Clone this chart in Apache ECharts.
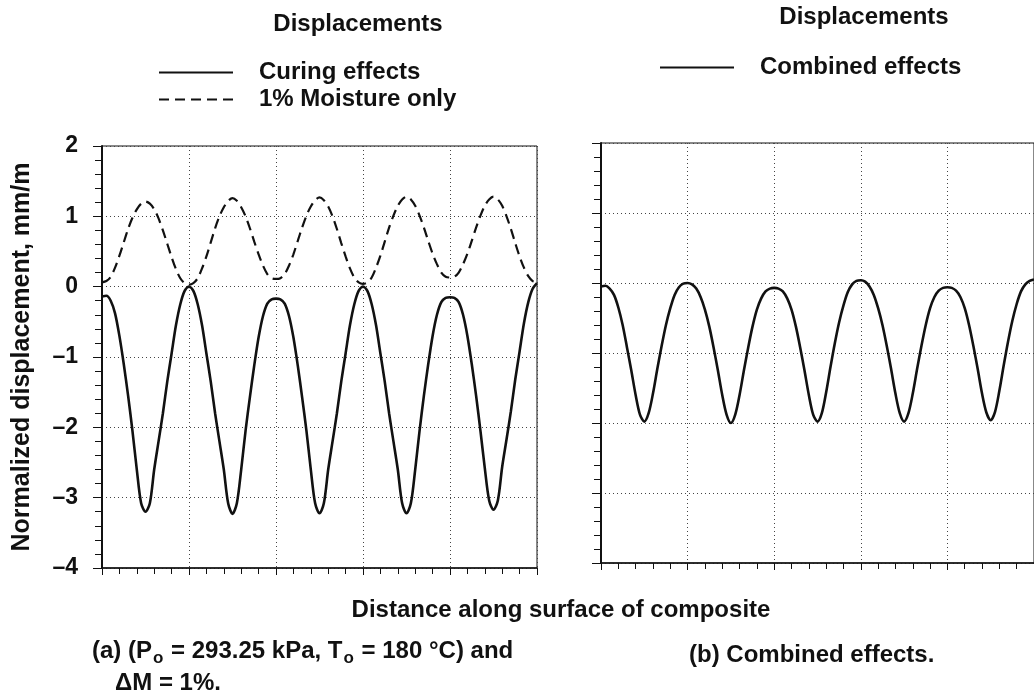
<!DOCTYPE html>
<html>
<head>
<meta charset="utf-8">
<title>Displacements</title>
<script src="https://cdn.jsdelivr.net/npm/echarts@6/dist/echarts.min.js"></script>
<style>
  html, body { margin: 0; padding: 0; background: #fff; }
  #chart { width: 1034px; height: 698px; }
</style>
</head>
<body>
<div id="chart"></div>
<script>
// distance along the surface (one unit = one grid cell)
const distance = [
  0, 0.05, 0.1, 0.15, 0.2, 0.25, 0.3, 0.35, 0.4, 0.45,
  0.5, 0.55, 0.6, 0.65, 0.7, 0.75, 0.8, 0.85, 0.9, 0.95,
  1, 1.05, 1.1, 1.15, 1.2, 1.25, 1.3, 1.35, 1.4, 1.45,
  1.5, 1.55, 1.6, 1.65, 1.7, 1.75, 1.8, 1.85, 1.9, 1.95,
  2, 2.05, 2.1, 2.15, 2.2, 2.25, 2.3, 2.35, 2.4, 2.45,
  2.5, 2.55, 2.6, 2.65, 2.7, 2.75, 2.8, 2.85, 2.9, 2.95,
  3, 3.05, 3.1, 3.15, 3.2, 3.25, 3.3, 3.35, 3.4, 3.45,
  3.5, 3.55, 3.6, 3.65, 3.7, 3.75, 3.8, 3.85, 3.9, 3.95,
  4, 4.05, 4.1, 4.15, 4.2, 4.25, 4.3, 4.35, 4.4, 4.45,
  4.5, 4.55, 4.6, 4.65, 4.7, 4.75, 4.8, 4.85, 4.9, 4.95,
  5
];

// (a) curing effects, mm/m
const curingEffects = [
  -0.14, -0.13, -0.2, -0.38, -0.7, -1.1, -1.55, -2.05, -2.6, -3.08,
  -3.2, -3.08, -2.6, -2.2, -1.8, -1.35, -0.95, -0.55, -0.25, -0.06,
  0, -0.06, -0.25, -0.55, -0.95, -1.35, -1.8, -2.2, -2.6, -3.08,
  -3.23, -3.08, -2.6, -2.05, -1.57, -1.12, -0.72, -0.42, -0.24, -0.18,
  -0.17, -0.18, -0.24, -0.42, -0.72, -1.12, -1.57, -2.05, -2.6, -3.08,
  -3.22, -3.08, -2.6, -2.2, -1.8, -1.35, -0.95, -0.55, -0.25, -0.06,
  0, -0.06, -0.25, -0.55, -0.95, -1.35, -1.8, -2.2, -2.6, -3.08,
  -3.22, -3.08, -2.6, -2.05, -1.55, -1.1, -0.7, -0.4, -0.22, -0.16,
  -0.15, -0.16, -0.22, -0.4, -0.7, -1.1, -1.55, -2.05, -2.58, -3.04,
  -3.17, -3.04, -2.56, -2.17, -1.77, -1.32, -0.92, -0.52, -0.22, -0.03,
  0.05
];

// (a) 1% moisture only, mm/m
const moistureOnly = [
  0.06, 0.08, 0.14, 0.27, 0.44, 0.63, 0.82, 0.98, 1.1, 1.18,
  1.21, 1.18, 1.1, 0.97, 0.8, 0.61, 0.42, 0.25, 0.12, 0.05,
  0.03, 0.05, 0.12, 0.26, 0.43, 0.63, 0.83, 1.0, 1.13, 1.22,
  1.26, 1.22, 1.13, 1.0, 0.83, 0.64, 0.46, 0.3, 0.18, 0.12,
  0.11, 0.12, 0.18, 0.3, 0.46, 0.65, 0.84, 1.01, 1.14, 1.23,
  1.27, 1.23, 1.14, 1.0, 0.82, 0.62, 0.43, 0.26, 0.13, 0.06,
  0.04, 0.06, 0.13, 0.27, 0.44, 0.64, 0.84, 1.01, 1.15, 1.24,
  1.28, 1.24, 1.15, 1.01, 0.84, 0.65, 0.47, 0.32, 0.2, 0.14,
  0.13, 0.14, 0.2, 0.32, 0.47, 0.65, 0.84, 1.01, 1.15, 1.24,
  1.28, 1.24, 1.15, 1.0, 0.82, 0.62, 0.43, 0.27, 0.15, 0.08,
  0.06
];

// (b) combined effects, mm/m
const combinedEffects = [
  -0.05, -0.04, -0.08, -0.17, -0.35, -0.6, -0.92, -1.25, -1.6, -1.88,
  -1.98, -1.86, -1.58, -1.23, -0.9, -0.6, -0.36, -0.17, -0.06, -0.01,
  0, -0.02, -0.08, -0.2, -0.38, -0.62, -0.92, -1.25, -1.6, -1.88,
  -2.0, -1.88, -1.6, -1.25, -0.92, -0.62, -0.38, -0.22, -0.12, -0.08,
  -0.07, -0.08, -0.12, -0.22, -0.38, -0.62, -0.92, -1.25, -1.6, -1.88,
  -1.98, -1.86, -1.56, -1.2, -0.86, -0.56, -0.32, -0.13, -0.02, 0.03,
  0.04, 0.02, -0.05, -0.17, -0.36, -0.6, -0.9, -1.23, -1.58, -1.86,
  -1.98, -1.86, -1.58, -1.23, -0.9, -0.6, -0.36, -0.2, -0.11, -0.07,
  -0.06, -0.07, -0.11, -0.2, -0.36, -0.6, -0.9, -1.23, -1.58, -1.85,
  -1.96, -1.84, -1.54, -1.18, -0.84, -0.54, -0.3, -0.12, -0.02, 0.03,
  0.05
];

const FONT = '"Liberation Sans", Arial, Helvetica, sans-serif';
const INK = '#111';

function pairs(values) {
  return distance.map((x, i) => [x, values[i]]);
}

function xAxisFor(gridIndex) {
  return {
    type: 'value', gridIndex: gridIndex, min: 0, max: 5, interval: 1,
    axisLine: { onZero: false, lineStyle: { color: INK, width: 1.5 } },
    axisTick: { length: 7, lineStyle: { color: INK } },
    minorTick: { show: true, splitNumber: 5, length: 6, lineStyle: { color: INK } },
    axisLabel: { show: false },
    splitLine: { show: true, lineStyle: { color: '#444', type: [1, 3] } }
  };
}

function yAxisFor(gridIndex, withLabels) {
  return {
    type: 'value', gridIndex: gridIndex, min: -4, max: 2, interval: 1,
    name: withLabels ? 'Normalized displacement, mm/m' : '',
    nameLocation: 'middle', nameGap: 67,
    nameTextStyle: { fontFamily: FONT, fontSize: 25, fontWeight: 'bold', color: INK },
    axisLine: { show: true, onZero: false, lineStyle: { color: INK, width: 2 } },
    axisTick: { length: 9, lineStyle: { color: INK } },
    minorTick: { show: true, splitNumber: 5, length: 7, lineStyle: { color: INK } },
    axisLabel: {
      show: withLabels, margin: 24,
      fontFamily: FONT, fontSize: 23, fontWeight: 'bold', color: INK,
      formatter: v => String(v).replace('-', '\u2013')
    },
    splitLine: { show: true, lineStyle: { color: '#444', type: [1, 3] } }
  };
}

function label(x, y, text, extra) {
  return {
    type: 'text', x: x, y: y,
    style: Object.assign({
      text: text, fill: INK,
      font: 'bold 24px ' + FONT,
      align: 'center', verticalAlign: 'middle'
    }, extra || {})
  };
}

const legendText = { fontFamily: FONT, fontSize: 24, fontWeight: 'bold', color: INK, lineHeight: 27, padding: [0, 0, 0, 21] };

const chart = echarts.init(document.getElementById('chart'));

const option = {
  animation: false,
  backgroundColor: '#fff',
  grid: [
    { left: 102, right: 497, top: 146, bottom: 130, show: true, borderColor: INK, borderWidth: 1 },
    { left: 601, right: -7, top: 143, bottom: 135, show: true, borderColor: INK, borderWidth: 1 }
  ],
  xAxis: [xAxisFor(0), xAxisFor(1)],
  yAxis: [yAxisFor(0, true), yAxisFor(1, false)],
  legend: [
    {
      data: ['Curing effects', '1% Moisture only'],
      orient: 'vertical', left: 158, top: 59, padding: 0,
      itemWidth: 74, itemHeight: 14, itemGap: 0,
      itemStyle: { opacity: 0 },
      textStyle: legendText
    },
    {
      data: ['Combined effects'],
      orient: 'vertical', left: 659, top: 54, padding: 0,
      itemWidth: 74, itemHeight: 14,
      itemStyle: { opacity: 0 },
      textStyle: legendText
    }
  ],
  graphic: [
    label(358, 24, 'Displacements'),
    label(864, 17, 'Displacements'),
    label(561, 610, 'Distance along surface of composite'),
    {
      type: 'text', x: 92, y: 639,
      style: {
        text: '{n|(a) (P}{sub|o}{n| = 293.25 kPa, T}{sub|o}{n| = 180 \u00B0C) and}',
        fill: INK, font: 'bold 24px ' + FONT,
        align: 'left', verticalAlign: 'top',
        rich: {
          n: { fontFamily: FONT, fontSize: 24, fontWeight: 'bold', fill: INK, lineHeight: 28, verticalAlign: 'top' },
          sub: { fontFamily: FONT, fontSize: 17, fontWeight: 'bold', fill: INK, lineHeight: 17, padding: [18, 1, 0, 1], verticalAlign: 'bottom' }
        }
      }
    },
    label(115, 683, '\u0394M = 1%.', { align: 'left', font: 'bold 24px ' + FONT }),
    label(689, 655, '(b) Combined effects.', { align: 'left', font: 'bold 24px ' + FONT })
  ],
  series: [
    {
      name: 'Curing effects', type: 'line', xAxisIndex: 0, yAxisIndex: 0,
      data: pairs(curingEffects), symbol: 'none', smooth: 0.3,
      lineStyle: { color: INK, width: 2.6 }, itemStyle: { color: INK }
    },
    {
      name: '1% Moisture only', type: 'line', xAxisIndex: 0, yAxisIndex: 0,
      data: pairs(moistureOnly), symbol: 'none', smooth: 0.3,
      lineStyle: { color: INK, width: 2.2, type: [10, 6] }, itemStyle: { color: INK }
    },
    {
      name: 'Combined effects', type: 'line', xAxisIndex: 1, yAxisIndex: 1,
      data: pairs(combinedEffects), symbol: 'none', smooth: 0.3,
      lineStyle: { color: INK, width: 2.6 }, itemStyle: { color: INK }
    }
  ]
};

chart.setOption(option);
</script>
</body>
</html>
